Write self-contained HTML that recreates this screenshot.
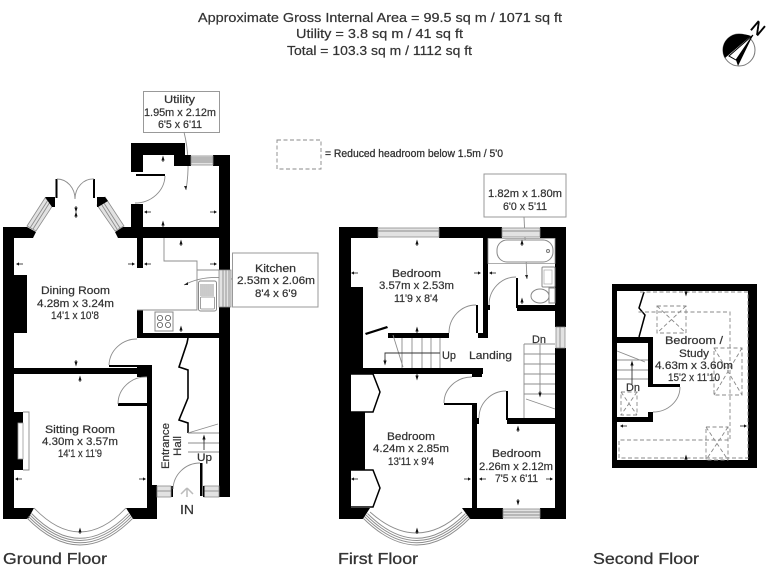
<!DOCTYPE html>
<html><head><meta charset="utf-8"><style>
html,body{margin:0;padding:0;background:#fff}
svg{display:block}
text{font-family:"Liberation Sans",sans-serif;fill:#333;stroke:#333;stroke-width:.22;font-size:11px}
.w{fill:#000;stroke:none}
.l{fill:none;stroke:#8c8c8c;stroke-width:.9}
.d{fill:none;stroke:#333;stroke-width:.9}
.k{fill:none;stroke:#000;stroke-width:2}
.b{fill:#fff;stroke:#999;stroke-width:1}
.win{fill:#e2e2e2;stroke:#8c8c8c;stroke-width:.8}
.da{fill:none;stroke:#888;stroke-width:.9;stroke-dasharray:4 2.5}
</style></head><body>
<svg width="768" height="576" viewBox="0 0 768 576" xmlns="http://www.w3.org/2000/svg">
<defs>
<path id="u" d="M-1.6 2.5L0 -2.5L1.6 2.5Z M-.4 2.5h.8v1.5h-.8Z" fill="#111"/>
<path id="n" d="M-1.6 -2.5L0 2.5L1.6 -2.5Z M-.4 -2.5h.8v-1.5h-.8Z" fill="#111"/>
<path id="e" d="M-4 -.4h4v.8h-4Z M0 -1.6L3 0L0 1.6Z" fill="#111"/>
<path id="o" d="M4 -.4h-4v.8h4Z M0 -1.6L-3 0L0 1.6Z" fill="#111"/>
</defs>
<rect width="768" height="576" fill="#fff"/>

<!-- Title -->
<text x="198" y="22" style="font-size:13px" textLength="364" lengthAdjust="spacingAndGlyphs">Approximate Gross Internal Area = 99.5 sq m / 1071 sq ft</text>
<text x="296" y="38" style="font-size:13px" textLength="167" lengthAdjust="spacingAndGlyphs">Utility = 3.8 sq m / 41 sq ft</text>
<text x="287" y="55" style="font-size:13px" textLength="185" lengthAdjust="spacingAndGlyphs">Total = 103.3 sq m / 1112 sq ft</text>

<!-- Compass -->
<circle cx="739" cy="50" r="16" fill="#fff" stroke="#777" stroke-width="1"/>
<path d="M739 34A16 16 0 0 0 725 58L751 36Q746 34 739 34Z" fill="#000"/>
<path d="M753 35L729 56L736 60Z" fill="#fff" stroke="#000" stroke-width="1"/>
<path d="M753 35L736 60L738 66Z" fill="#000"/>
<text x="752" y="34" style="font-size:17px;fill:#000;stroke:#000;stroke-width:.5" transform="rotate(40 758 28)">N</text>

<!-- Legend -->
<rect x="277" y="140" width="44" height="29" class="da"/>
<text x="325" y="157" style="font-size:11px;stroke-width:.3" textLength="178" lengthAdjust="spacingAndGlyphs">= Reduced headroom below 1.5m / 5'0</text>

<!-- ===== GROUND FLOOR ===== -->
<g>
<rect x="143.500" y="91.500" width="76" height="41" class="b"/>
<rect x="232.500" y="253" width="85.500" height="54" class="b"/>
<path d="M184 132Q191 160 186 190" class="l"/>
<path d="M186 190l-2 -4l3 0Z" fill="#222"/>
<path d="M232 279Q205 274 184 285" class="l"/>
<path d="M184 285l4 -3l0 3Z" fill="#222"/>

<!-- walls -->
<path class="w" d="M3 227H27L36 232L33 238H14V508H34L28 519H3Z"/>
<rect class="w" x="14" y="275" width="13" height="58"/>
<rect class="w" x="14" y="412" width="9" height="58"/>
<path class="w" d="M115 232L123 227H131V204H143V227H219V166H213V155H230V270H219V238H143V268H137V238H118Z"/>
<path class="w" d="M131 143H185V155H191V166H174V155H143V172H131Z"/>
<path class="w" d="M219 307H230V497H219V338H143V333H219Z"/>
<rect class="w" x="137" y="310" width="6" height="28"/>
<rect class="w" x="14" y="368" width="138" height="6"/>
<rect class="w" x="137" y="365" width="15" height="12"/>
<rect class="w" x="109" y="365" width="28" height="2"/>
<rect class="w" x="147" y="377" width="5" height="108"/>
<rect class="w" x="118" y="403" width="29" height="3"/>
<path class="w" d="M147 485H157V519H133L126 508H147Z"/>
<rect class="w" x="171" y="486" width="2" height="11"/>
<rect class="w" x="200" y="463" width="2.500" height="33"/>
<!-- windows -->
<rect class="win" x="191" y="156" width="22" height="9"/>
<path class="l" d="M191 158h22M191 160h22M191 162h22"/>
<rect class="win" x="219" y="270" width="12" height="37"/>
<path class="l" d="M223 270v37M226 270v37M229 270v37"/>
<path class="win" d="M27 226L36 231L53 205L45 198Z"/>
<path class="l" d="M30 228L48 200M33 229L50 202"/>
<path class="w" d="M45 197H55V207H52Z"/>
<path class="win" d="M105 197L97 205L115 231L124 226Z"/>
<path class="l" d="M102 200L120 228M100 202L117 229"/>
<path class="w" d="M97 197H105L108 201L98 207H97Z"/>
<!-- double door -->
<rect class="w" x="55.500" y="179" width="2" height="19"/>
<rect class="w" x="93" y="179" width="2" height="19"/>
<path class="l" d="M57 179A18 20 0 0 1 75 199M94 179A18 20 0 0 0 75 199"/>
<!-- utility door -->
<rect class="w" x="136" y="174" width="29" height="2"/>
<path class="l" d="M165 176A30 28 0 0 1 135 203"/>
<!-- interior doors -->
<path class="l" d="M137 339A28 27 0 0 0 109 365"/>
<path class="l" d="M147 377A28 27 0 0 0 118 404"/>
<path class="l" d="M173 489A27 27 0 0 1 200 463"/>
<!-- kitchen worktops -->
<path class="l" d="M164 238V261H197V310H137"/>
<path class="l" d="M197 270H219"/>
<!-- sink -->
<rect x="198.500" y="281" width="18" height="30" rx="2" fill="#fff" stroke="#888"/>
<path class="l" d="M201 284v12M203 284v12M205 284v12M207 284v12M209 284v12M211 284v12M213 284v12"/>
<rect x="200.500" y="297" width="14" height="12" rx="1" fill="#fff" stroke="#888" stroke-width=".8"/>
<!-- hob -->
<rect x="155" y="312" width="18" height="19" fill="#fff" stroke="#888"/>
<circle cx="160" cy="318" r="2.600" fill="none" stroke="#555" stroke-width=".8"/>
<circle cx="168" cy="318" r="2.600" fill="none" stroke="#555" stroke-width=".8"/>
<circle cx="160" cy="325" r="2.600" fill="none" stroke="#555" stroke-width=".8"/>
<circle cx="168" cy="325" r="2.600" fill="none" stroke="#555" stroke-width=".8"/>
<!-- fireplace -->
<path class="l" d="M23 412H29V470H23"/>
<rect x="18" y="423" width="5" height="36" fill="#fff" stroke="#999" stroke-width=".8"/>
<!-- front windows -->
<rect class="win" x="157" y="486" width="14" height="11"/>
<path class="l" d="M157 491h14"/>
<rect class="win" x="204" y="486" width="15" height="11"/>
<path class="l" d="M204 491h15"/>
<rect class="w" x="203" y="486" width="1.500" height="11"/>
<!-- bay window -->
<path class="l" d="M34 508Q80 556 126 508"/>
<path class="l" d="M27 518Q80 572 133 518M28.500 516.500Q80 569 131.500 516.500M30 515Q80 566 130 515M31.500 513.500Q80 563 128.500 513.500"/>
<!-- stairs closet -->
<path class="k" d="M188 338L187 343L179 367L188 370V398L179 420L188 423V433" style="stroke-width:1.6"/>
<path class="l" d="M188 433H219M188 443H219M188 452H219M188 433L218 424"/>
<path class="d" d="M204 450V436"/>
<use href="#u" x="204" y="437"/>
<!-- IN arrow -->
<path d="M187 488L181 494M187 488L193 494M187 488V497" stroke="#bbb" stroke-width="1.500" fill="none"/>
</g>

<!-- arrows ground -->
<use href="#u" x="163" y="158"/><use href="#n" x="76" y="210"/><use href="#u" x="76" y="214"/>
<use href="#o" x="147" y="212"/><use href="#e" x="214" y="212"/><use href="#u" x="163" y="223"/>
<use href="#u" x="181" y="242"/><use href="#o" x="19" y="264"/><use href="#e" x="132" y="264"/>
<use href="#o" x="147" y="264"/><use href="#e" x="214" y="264"/><use href="#u" x="181" y="328"/>
<use href="#n" x="76" y="364"/><use href="#u" x="80" y="378"/><use href="#o" x="18" y="479"/>
<use href="#e" x="143" y="479"/><use href="#u" x="80" y="530"/>

<!-- ground labels -->
<text x="164" y="103" textLength="31" lengthAdjust="spacingAndGlyphs">Utility</text>
<text x="144" y="116" textLength="72" lengthAdjust="spacingAndGlyphs">1.95m x 2.12m</text>
<text x="158" y="128" textLength="44" lengthAdjust="spacingAndGlyphs">6'5 x 6'11</text>
<text x="255" y="272" textLength="41" lengthAdjust="spacingAndGlyphs">Kitchen</text>
<text x="237" y="284" textLength="78" lengthAdjust="spacingAndGlyphs">2.53m x 2.06m</text>
<text x="255" y="297" textLength="42" lengthAdjust="spacingAndGlyphs">8'4 x 6'9</text>
<text x="41" y="294" textLength="69" lengthAdjust="spacingAndGlyphs">Dining Room</text>
<text x="37" y="307" textLength="77" lengthAdjust="spacingAndGlyphs">4.28m x 3.24m</text>
<text x="51" y="319" textLength="48" lengthAdjust="spacingAndGlyphs">14'1 x 10'8</text>
<text x="45" y="433" textLength="70" lengthAdjust="spacingAndGlyphs">Sitting Room</text>
<text x="42" y="445" textLength="76" lengthAdjust="spacingAndGlyphs">4.30m x 3.57m</text>
<text x="58" y="457" textLength="44" lengthAdjust="spacingAndGlyphs">14'1 x 11'9</text>
<text transform="translate(169 469) rotate(-90)" textLength="46" lengthAdjust="spacingAndGlyphs">Entrance</text>
<text transform="translate(181 456) rotate(-90)" textLength="20" lengthAdjust="spacingAndGlyphs">Hall</text>
<text x="197" y="461" textLength="15" lengthAdjust="spacingAndGlyphs">Up</text>
<text x="180" y="514" style="font-size:13px" textLength="14" lengthAdjust="spacingAndGlyphs">IN</text>
<text x="3" y="564" style="font-size:16px;stroke-width:.3" textLength="104" lengthAdjust="spacingAndGlyphs">Ground Floor</text>

<!-- ===== FIRST FLOOR ===== -->
<g>
<rect x="484" y="174" width="82" height="43" class="b"/>
<path d="M524 217L527 279" class="l"/>
<path d="M527 279l-2 -4l3 0Z" fill="#222"/>
<!-- walls -->
<rect class="w" x="339" y="227" width="39" height="11"/>
<rect class="w" x="339" y="227" width="12" height="292"/>
<rect class="w" x="351" y="287" width="12" height="87"/>
<rect class="w" x="351" y="368" width="132" height="6"/>
<rect class="w" x="472" y="368" width="10" height="9"/>
<rect class="w" x="472" y="405" width="5" height="103"/>
<rect class="w" x="444" y="403" width="33" height="2"/>
<path class="w" d="M339 508H370L363 519H339Z"/>
<path class="w" d="M462 508H503V519H470Z"/>
<rect class="w" x="351" y="412" width="14" height="58"/>
<rect class="w" x="439" y="227" width="63" height="11"/>
<rect class="w" x="540" y="227" width="26" height="11"/>
<rect class="w" x="555" y="238" width="11" height="89"/>
<rect class="w" x="555" y="348" width="11" height="171"/>
<rect class="w" x="540" y="508" width="26" height="11"/>
<rect class="w" x="483" y="238" width="5" height="100"/>
<rect class="w" x="478" y="333" width="10" height="5"/>
<rect class="w" x="476" y="305" width="2" height="28"/>
<rect class="w" x="388" y="333" width="61" height="5"/>
<rect class="w" x="517" y="305" width="38" height="6"/>
<rect class="w" x="516" y="278" width="2" height="30"/>
<rect class="w" x="488" y="305" width="2" height="5"/>
<rect class="w" x="507" y="418" width="48" height="6"/>
<rect class="w" x="506" y="391" width="2" height="29"/>
<rect class="w" x="477" y="418" width="2" height="6"/>
<path class="w" d="M365 333L387 326L388 328L366 335Z"/>
<!-- windows -->
<rect class="win" x="378" y="228" width="61" height="9"/>
<path class="l" d="M378 231h61"/>
<rect class="win" x="502" y="228" width="38" height="9"/>
<path class="l" d="M502 231h38"/>
<rect class="win" x="556" y="327" width="9" height="21"/>
<path class="l" d="M560 327v21"/>
<rect class="win" x="503" y="509" width="37" height="9"/>
<path class="l" d="M503 512h37M503 515h37"/>
<!-- doors -->
<path class="l" d="M476 305A27 28 0 0 0 449 333"/>
<path class="l" d="M516 277A27 28 0 0 0 489 305"/>
<path class="l" d="M472 377A28 26 0 0 0 444 403"/>
<path class="l" d="M506 391A27 27 0 0 0 479 418"/>
<!-- closets -->
<path class="k" d="M351 374H373L380 392L373 412H351" style="stroke-width:1.500"/>
<path class="k" d="M351 470H373L380 488L373 507H351" style="stroke-width:1.500"/>
<!-- bath -->
<rect x="488" y="238.500" width="67" height="25" fill="none" stroke="#999" stroke-width=".8"/>
<rect x="497" y="240" width="56" height="22" rx="10" fill="#fff" stroke="#888"/>
<circle cx="548" cy="251" r="1.500" fill="none" stroke="#777"/>
<!-- basin & wc -->
<rect x="542" y="267" width="13" height="20" rx="1" fill="#fff" stroke="#888"/>
<rect x="544" y="270" width="8" height="14" fill="none" stroke="#aaa" stroke-width=".7"/>
<ellipse cx="540" cy="296" rx="9" ry="7" fill="#fff" stroke="#888"/>
<rect x="549" y="288" width="6" height="15" fill="#fff" stroke="#888"/>
<!-- up stairs -->
<path class="l" d="M402 338V368M412 338V368M422 338V368M431 338V368M440 338V368M393 335L403 367"/>
<path class="d" d="M440 353H385V362"/>
<use href="#n" x="385" y="363"/>
<!-- down stairs -->
<path class="l" d="M524 344V418M524 344H555M524 354H555M524 364H555M524 374H555M524 384H555M524 394H555M526 399L555 409M540 344V392"/>
<use href="#n" x="540" y="395"/>
<!-- bay -->
<path class="l" d="M370 512Q417 554 462 512"/>
<path class="l" d="M363 518Q417 572 470 518M364.500 516.500Q417 569 468.500 516.500M366 515Q417 566 467 515M367.500 513.500Q417 563 465.500 513.500"/>
</g>

<use href="#u" x="417" y="242"/><use href="#o" x="354" y="273"/><use href="#e" x="478" y="273"/>
<use href="#o" x="492" y="273"/><use href="#u" x="522" y="242"/><use href="#u" x="522" y="300"/>
<use href="#u" x="417" y="329"/><use href="#n" x="417" y="378"/><use href="#o" x="354" y="479"/>
<use href="#e" x="468" y="479"/><use href="#o" x="482" y="479"/><use href="#e" x="550" y="479"/>
<use href="#u" x="518" y="428"/><use href="#n" x="518" y="503"/><use href="#u" x="417" y="530"/>

<text x="392" y="277" textLength="49" lengthAdjust="spacingAndGlyphs">Bedroom</text>
<text x="379" y="289" textLength="75" lengthAdjust="spacingAndGlyphs">3.57m x 2.53m</text>
<text x="394" y="302" textLength="44" lengthAdjust="spacingAndGlyphs">11'9 x 8'4</text>
<text x="442" y="359" textLength="14" lengthAdjust="spacingAndGlyphs">Up</text>
<text x="469" y="359" textLength="43" lengthAdjust="spacingAndGlyphs">Landing</text>
<text x="532" y="343" textLength="14" lengthAdjust="spacingAndGlyphs">Dn</text>
<text x="488" y="197" textLength="74" lengthAdjust="spacingAndGlyphs">1.82m x 1.80m</text>
<text x="503" y="210" textLength="44" lengthAdjust="spacingAndGlyphs">6'0 x 5'11</text>
<text x="387" y="440" textLength="48" lengthAdjust="spacingAndGlyphs">Bedroom</text>
<text x="373" y="452" textLength="76" lengthAdjust="spacingAndGlyphs">4.24m x 2.85m</text>
<text x="388" y="465" textLength="46" lengthAdjust="spacingAndGlyphs">13'11 x 9'4</text>
<text x="492" y="457" textLength="49" lengthAdjust="spacingAndGlyphs">Bedroom</text>
<text x="479" y="470" textLength="74" lengthAdjust="spacingAndGlyphs">2.26m x 2.12m</text>
<text x="495" y="482" textLength="43" lengthAdjust="spacingAndGlyphs">7'5 x 6'11</text>
<text x="338" y="564" style="font-size:16px;stroke-width:.3" textLength="80" lengthAdjust="spacingAndGlyphs">First Floor</text>

<!-- ===== SECOND FLOOR ===== -->
<g>
<path class="w" fill-rule="evenodd" d="M612 284H757V468H612ZM617 291V460H748V291Z"/>
<rect class="w" x="617" y="337" width="36" height="6"/>
<rect class="w" x="648" y="337" width="5" height="50"/>
<rect class="w" x="653" y="384" width="27" height="3"/>
<rect class="w" x="648" y="412" width="5" height="10"/>
<rect class="w" x="617" y="417" width="36" height="5"/>
<path class="l" d="M680 387A27 25 0 0 1 653 412"/>
<path class="k" d="M644 292L639 308L645 315L639 337" style="stroke-width:1.500"/>
<path class="da" d="M640 292H748V458H619V440H730V312H638"/>
<rect x="657" y="306" width="29" height="27" class="da"/><path class="da" d="M657 306L686 333M686 306L657 333"/>
<rect x="714" y="348" width="28" height="47" class="da"/><path class="da" d="M714 348L742 395M742 348L714 395"/>
<rect x="706" y="427" width="22" height="33" class="da"/><path class="da" d="M706 427L728 460M728 427L706 460"/>
<rect x="621" y="392" width="16" height="23" class="da"/><path class="da" d="M621 392L637 415M637 392L621 415"/>
<path class="l" d="M617 351L645 362M617 360H648M617 370H648M617 379H648"/>
<path class="d" d="M632 384V363"/>
<use href="#u" x="632" y="363"/>
</g>
<use href="#n" x="686" y="294"/><use href="#o" x="623" y="426"/><use href="#e" x="744" y="426"/><use href="#u" x="686" y="457"/>
<text x="665" y="344" textLength="58" lengthAdjust="spacingAndGlyphs">Bedroom /</text>
<text x="679" y="357" textLength="30" lengthAdjust="spacingAndGlyphs">Study</text>
<text x="655" y="369" textLength="78" lengthAdjust="spacingAndGlyphs">4.63m x 3.60m</text>
<text x="668" y="381" textLength="52" lengthAdjust="spacingAndGlyphs">15'2 x 11'10</text>
<text x="626" y="391" textLength="14" lengthAdjust="spacingAndGlyphs">Dn</text>
<text x="593" y="564" style="font-size:16px;stroke-width:.3" textLength="106" lengthAdjust="spacingAndGlyphs">Second Floor</text>
</svg>
</body></html>
